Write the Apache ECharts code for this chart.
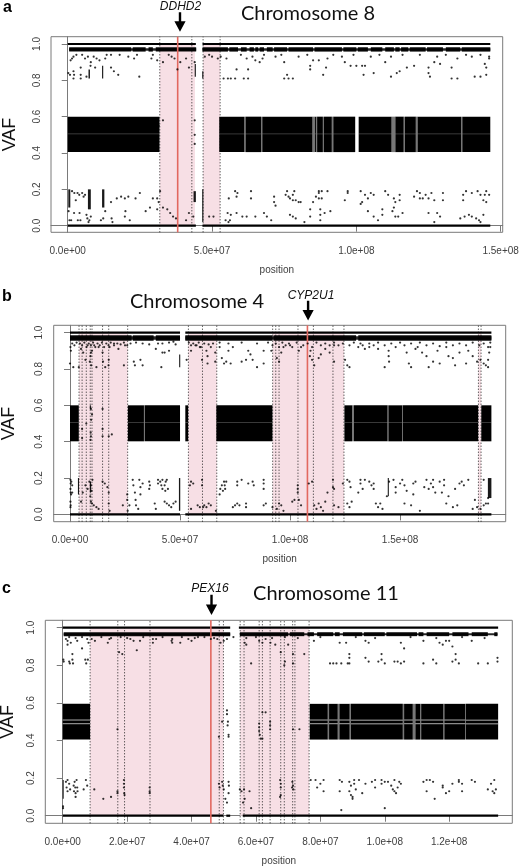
<!DOCTYPE html>
<html><head><meta charset="utf-8">
<style>html,body{margin:0;padding:0;background:#fff}#c{width:520px;height:867px}</style>
<script src="https://cdn.jsdelivr.net/npm/echarts@6/dist/echarts.min.js"></script></head>
<body><div id="c"></div>
<script>
// All positions in megabases (Mb), VAF as fraction.
const vafTicks=[0,0.2,0.4,0.6,0.8,1];
const a_ticks=[0,50,100,150], b_ticks=[0,50,100,150], c_ticks=[0,20,40,60,80,100,120];
const a_shade=[[31.9,44.1],[46.9,52.8]];
const a_dotted=[31.9,43,46.9,52.8];
const a_gene=[38.1], a_arrow=[38.9];
const a_line=[[0,44.4],[46.7,146.4]];
const a_lineLow=[[0,44.4],[46.7,146.4]];
const a_core=[[0.5,44.5],[46.7,146.4]];
const a_band=[[0.5,22],[22.5,27],[28,29.5],[30.5,44.5],[46.7,55.5],[56,59],[60,62],[63,64.5],[65,66],[66.5,68],[69,71],[71.5,76],[76.5,85],[85.5,95],[95.5,100],[100.5,104],[105,109],[110,113],[113.5,115],[115.5,118],[118.5,124],[124.5,130],[131,136],[136.5,146.4]];
const a_bandY=[0.958,0.982];
const a_blocks=[[0,31.8],[52.5,61.2],[61.6,67],[67.4,84.8],[85.6,86],[86.4,88.4],[88.7,91.5],[92,99.6],[100.8,112.2],[113.5,116.4],[116.8,120.6],[121.2,136.3],[136.7,146.4]];
const a_streaks=[[61.2,61.6],[67,67.4],[84.8,85.6],[86,86.4],[88.4,88.7],[91.5,92],[112.2,113.5],[116.4,116.8],[120.6,121.2],[136.3,136.7]];
const a_blockY=[0.405,0.6];
const a_mid=[0.505], a_midAlpha=[0.3];
const a_columns=[[0.2,0.9,0.1,0.2],[7,8,0.09,0.2],[11.9,12.7,0.1,0.2],[43.6,44.4,0.13,0.19],[46.6,47,0.02,0.2],[7.2,7.7,0.81,0.86],[11.9,12.3,0.81,0.88],[44,44.4,0.82,0.89],[46.6,47,0.81,0.85]];
const a_pts=[[0.3,.08],[0.6,.03],[1.2,.03],[1.5,.19],[2.3,.18],[2.8,.14],[3.4,.18],[4,.17],[5,.18],[5.5,.16],[6,.17],[2.2,.07],[3.5,.03],[4.1,.07],[4.4,.03],[6.5,.06],[6.8,.04],[7.2,.02],[7.5,.03],[8,.05],[11.5,.03],[12.3,.04],[13,.08],[15.2,.04],[15.5,.02],[15,.13],[17,.15],[18.5,.16],[19.8,.15],[21,.16],[23.5,.15],[25,.18],[20,.08],[19.8,.05],[21.5,.03],[27,.08],[28.5,.1],[29.5,.15],[31,.15],[31.5,.13],[31,.09],[32,.19],[33,.1],[34.5,.09],[35.5,.07],[36.5,.05],[37.5,.04],[41,.03],[42,.07],[43.5,.05],[49,.05],[50.5,.05],[55.4,.07],[56.5,.06],[54.7,.03],[55.7,.02],[56.2,.03],[55.8,.15],[58,.19],[58.5,.16],[58.8,.18],[58.5,.07],[60.5,.05],[65,.05],[63.5,.19],[63.5,.15],[62,.05],[68,.07],[69,.05],[70.5,.03],[71.5,.16],[71.5,.13],[72,.11],[76,.19],[75.5,.17],[76.5,.16],[77,.15],[78,.17],[78.5,.19],[78,.14],[79,.14],[80,.13],[80.7,.13],[77,.06],[78,.05],[79,.04],[82,.02],[84,.09],[84,.05],[85,.13],[86,.16],[87,.18],[87,.15],[87,.19],[88,.15],[88,.19],[87.5,.09],[87.5,.06],[87.5,.03],[89,.07],[91,.08],[90,.19],[96,.14],[97,.19],[97,.18],[101.5,.19],[101.5,.12],[102,.13],[103,.17],[104,.15],[105,.18],[106,.17],[104,.08],[106,.05],[107.5,.03],[109,.09],[109,.06],[110,.19],[111,.17],[113,.15],[113.5,.13],[113,.1],[112.5,.08],[113.5,.05],[114.5,.05],[116,.07],[115,.17],[115,.14],[120,.16],[121,.19],[122,.18],[122,.15],[124,.17],[123,.15],[125,.15],[126,.18],[127,.14],[125,.07],[127,.02],[128,.07],[129,.05],[130,.18],[130,.14],[136,.04],[137.5,.05],[139,.06],[140,.05],[141.5,.04],[142.5,.03],[143,.02],[144,.06],[137,.14],[137,.17],[138,.19],[140,.18],[142,.19],[143,.17],[144,.14],[144.5,.17],[145,.13],[146,.17],[145,.19],
[0.2,.84],[0.8,.83],[2,.81],[2.2,.83],[2,.85],[4.5,.81],[4.5,.83],[4.5,.87],[6.5,.82],[7.9,.88],[9.5,.87],[15,.87],[16,.85],[17.5,.83],[24.8,.82],[33,.58],[31.5,.55],[44,.58],[44,.5],[44,.45],[31,.91],[33,.9],[36,.93],[38,.86],[39,.9],[41,.92],[42,.87],[44,.9],[35,.94],[37,.92],[55,.92],[53,.93],[58.5,.86],[54,.81],[55.5,.81],[56.5,.81],[58,.81],[61,.81],[62.5,.86],[62.5,.81],[65,.91],[66.5,.9],[67.5,.92],[75,.81],[76,.83],[76.5,.81],[78,.81],[75,.9],[84,.88],[84,.86],[85,.91],[87,.91],[88.5,.83],[89.5,.87],[96,.9],[98,.88],[100,.88],[102,.88],[103,.88],[102.5,.83],[106,.84],[110,.9],[112,.82],[114,.84],[115,.85],[117.5,.87],[120,.88],[125,.87],[125,.84],[125.5,.82],[127,.9],[129,.89],[133,.81],[133,.87],[135,.81],[141,.82],[143,.82],[144.5,.89],[145,.87],[145,.83],[146,.93],
[1,.91],[1.5,.92],[2,.93],[3,.94],[5,.94],[6,.92],[7,.93],[8,.9],[9,.93],[10,.92],[11,.91],[13,.92],[13.5,.94],[15,.94],[18,.94],[21,.93],[23,.92],[24,.94],[29,.92],[29.5,.94],[47.5,.93],[49,.94],[50,.93],[52,.92],[60,.94],[62,.92],[64,.93],[68,.94],[72,.93],[74,.94],[80,.93],[83,.94],[90,.92],[92,.94],[95,.93],[99,.94],[105,.93],[108,.94],[112,.93],[116,.94],[122,.94],[128,.93],[131,.94],[135,.92],[138,.94],[140,.93],[143,.94],[146,.92]];

const b_shade=[[4.1,26.2],[53.8,66.7],[92.1,124.5],[185.6,186.8]];
const b_dotted=[4.1,5.5,7.4,9.2,10,14.8,17.6,26.2,53.8,60.2,66.7,92.1,93.5,95,103.6,110.6,119.5,124.5,185.6,186.8];
const b_gene=[107.9], b_arrow=[108.2];
const b_line=[[0,50],[52.4,191.5]];
const b_lineLow=[[0,50],[52.4,191.5]];
const b_core=[[0,50],[52.4,191.5]];
const b_band=[[0,28],[28.5,38],[39,50],[52.4,92],[92.5,130],[131,191.5]];
const b_bandY=[0.955,0.985];
const b_blocks=[[0,4],[26.3,33.6],[34,50],[52.4,53.7],[66.5,92],[124.7,128.2],[129,144.3],[144.7,150.9],[151.2,185.5],[186.9,191.5]];
const b_streaks=[[33.6,34],[128.2,129],[144.3,144.7],[150.9,151.2]];
const b_blockY=[0.402,0.6];
const b_mid=[0.505], b_midAlpha=[0.3];
const b_columns=[[49.5,50.1,0.02,0.2],[144.4,144.9,0.1,0.2],[189.9,191.5,0.09,0.2],[3.6,4.1,0.11,0.2],[49.6,50.1,0.81,0.88],[9,9.6,0.12,0.18],[9,9.5,0.58,0.6]];
const b_pts=[[0.2,.19],[0.3,.17],[.2,.14],[.3,.12],[.5,.11],[.2,.07],[.3,.05],[.2,.04],[.6,.18],[1,.16],[1,.12],[5.8,.12],[5,.07],[7,.16],[8,.14],[8.8,.18],[9.5,.16],[9.8,.13],[9.2,.1],[9.5,.07],[10.2,.19],[10,.06],[10.8,.05],[12,.04],[13,.03],[14.8,.18],[15.8,.17],[17,.15],[17.6,.12],[17.6,.06],[18,.02],[24,.05],[26,.11],[26,.08],[26.2,.02],[27,.05],[28.5,.19],[28.8,.16],[29.5,.12],[29.8,.08],[30,.05],[31,.03],[31.5,.19],[32,.15],[32,.11],[33,.17],[36,.18],[36.3,.16],[36,.14],[38.5,.06],[39,.03],[40,.19],[40,.17],[41,.18],[41.5,.16],[42,.14],[42,.19],[43,.16],[43.3,.13],[43.5,.18],[44,.19],[44.5,.14],[43,.07],[44,.06],[45,.05],[46,.04],[47,.06],[48,.07],[54.5,.16],[55,.18],[56,.17],[55,.03],[58,.05],[59,.04],[60,.19],[60,.16],[60.5,.04],[61,.05],[62,.04],[63,.06],[64,.05],[66.3,.02],[68,.11],[68.3,.14],[69,.16],[69.5,.13],[70,.18],[70.3,.16],[70.5,.14],[71,.18],[75,.05],[74,.04],[76,.06],[77,.05],[76,.16],[76,.18],[78,.19],[80,.06],[80,.04],[81,.17],[83,.18],[83.5,.16],[88,.05],[89,.06],[88,.19],[88,.17],[88,.14],[92,.04],[94,.03],[95,.06],[96,.05],[97,.02],[101,.07],[102,.08],[103.5,.12],[103.5,.14],[103.5,.16],[104,.08],[105,.05],[108.5,.17],[110,.18],[111,.05],[112,.03],[113,.06],[114,.04],[115,.02],[116,.07],[117,.12],[119.5,.19],[119.5,.15],[120,.14],[120,.05],[122,.04],[124,.17],[126,.19],[127,.18],[127.5,.15],[126,.06],[127,.04],[128,.07],[131,.12],[132,.19],[132,.17],[133,.14],[134,.19],[136,.18],[137,.16],[138,.17],[138,.14],[139,.06],[140,.04],[141,.06],[142,.03],[144,.1],[145,.18],[147,.19],[148,.15],[148,.12],[150,.17],[151,.19],[152,.16],[153,.13],[152,.06],[155,.05],[156,.11],[156,.17],[157,.18],[159,.02],[161,.15],[162,.19],[163,.14],[164,.17],[165,.19],[165,.15],[166,.12],[168,.18],[169,.12],[170,.19],[170,.16],[172,.1],[171,.06],[174,.04],[176,.05],[175,.14],[177,.17],[178,.18],[179,.16],[181,.19],[183,.03],[184,.08],[185,.04],[186.5,.03],[188,.05],[188,.19],[189,.06],[190,.06],[190,.09],
[0,.83],[.2,.92],[.4,.9],[1.5,.81],[4,.81],[5,.91],[6,.89],[7,.85],[8,.93],[9,.84],[9.3,.87],[9.5,.89],[9.6,.82],[10,.9],[11,.93],[12,.81],[13,.92],[14.8,.89],[15,.84],[16,.81],[17.5,.82],[17.6,.85],[18,.92],[20,.94],[22,.91],[24.5,.82],[25,.93],[29,.84],[29.5,.82],[32,.85],[33,.82],[40,.94],[39,.91],[41.5,.81],[42,.89],[43,.89],[45,.9],[47,.95],[53,.85],[55,.9],[57,.93],[59,.92],[60,.85],[62,.9],[62.5,.87],[62.5,.83],[64,.92],[66,.89],[66,.84],[68,.92],[69,.86],[70,.83],[71,.84],[73,.83],[72,.9],[74,.92],[78,.84],[80,.85],[81,.9],[82,.88],[83,.85],[85,.81],[88,.83],[88,.9],[91.5,.9],[94,.86],[95,.84],[96,.89],[97,.92],[100,.93],[104,.9],[105,.92],[109,.87],[109.3,.9],[110,.85],[111,.82],[113,.86],[114,.88],[116,.91],[118,.89],[120,.84],[120,.93],[125,.85],[126,.82],[127,.81],[133,.93],[136,.92],[140,.91],[145,.84],[144.8,.87],[144.8,.9],[143,.81],[153,.89],[154,.83],[155,.81],[158,.92],[160,.89],[162,.87],[163,.81],[165,.84],[167,.9],[168,.83],[171,.92],[172,.87],[174,.86],[175,.82],[177,.89],[180,.83],[181,.9],[183,.87],[185,.84],[186.5,.85],[188,.83],[189,.82],[190,.81],[190,.85],[190.5,.89],[191,.92],
[9.5,.58],[9.6,.52],[9.4,.45],[9.5,.43],[9.3,.41],[14.8,.58],[14.8,.47],[14.8,.43],[17.6,.43],[19,.44],[10,.55],[5.5,.42],[5.5,.47],[7.4,.5],
[1,.94],[2,.93],[3,.945],[4.5,.94],[5.5,.93],[6.5,.945],[7.5,.92],[8.5,.94],[9.5,.93],[10.5,.945],[11.5,.92],[12.5,.94],[13.5,.93],[14.5,.945],[15.5,.92],[16.5,.94],[17.5,.93],[18.5,.945],[20,.93],[21.5,.94],[23,.935],[24.5,.945],[26,.93],[27.5,.94],[30,.945],[33,.94],[36,.935],[42,.94],[45,.945],[48,.935],[54,.945],[55,.93],[56,.94],[57.5,.93],[58.5,.945],[59.5,.92],[61,.94],[63,.935],[65,.94],[68,.945],[72,.94],[78,.945],[85,.94],[90,.945],[92,.93],[93.5,.94],[95,.92],[96.5,.945],[98,.93],[99.5,.94],[101,.92],[103,.945],[106,.93],[108,.94],[110,.92],[112,.945],[114,.93],[116,.94],[118,.93],[120,.945],[122,.93],[124,.94],[127,.93],[129,.945],[131,.92],[132,.94],[134,.91],[136,.94],[138,.93],[140,.945],[143,.93],[146,.94],[148,.92],[150,.945],[152,.93],[155,.94],[157,.91],[159,.945],[162,.93],[165,.94],[168,.925],[171,.945],[174,.93],[177,.94],[180,.93],[183,.945],[186,.93],[188,.94],[190,.92],[191,.945]];

const c_shade=[[8.5,49.9],[55.1,76.5]];
const c_dotted=[8.5,17.1,19.2,27.1,48.6,49.9,55.1,56.3,61,62,64.4,67.7,68.8,71.4,72.1,76.5];
const c_gene=[46], c_arrow=[46.2];
const c_line=[[0,52],[54.7,135.2]];
const c_lineLow=[[0,49.9],[50.8,52],[55.9,135.2]];
const c_core=[[0.3,52],[55,135]];
const c_band=[[0.3,52],[55,70],[70.5,75],[76,78],[79,84],[84.5,86],[87,93],[93.5,100],[100.5,110],[110.5,112],[113,120],[121,126],[127,132],[134,135]];
const c_bandY=[0.955,0.976];
const c_blocks=[[0,8.5],[76.7,82.3],[82.7,85.4],[85.9,89.1],[89.5,105.6],[106,108.7],[109.5,111],[111.3,118.2],[118.5,125],[125.2,135.2]];
const c_streaks=[[82.3,82.7],[85.4,85.9],[89.1,89.5],[105.6,106],[108.7,109.5],[111,111.3],[118.2,118.5],[125,125.2]];
const c_blockY=[0.405,0.595];
const c_mid=[0.489,0.509], c_midAlpha=[0.9];
const c_columns=[[0,0.3,0.09,0.19]];
const c_pts=[[0.1,.05],[.1,.04],[1,.18],[1.2,.15],[1.5,.13],[1.5,.19],[2,.17],[2.3,.14],[3.4,.16],[3.5,.13],[3.7,.18],[3.9,.15],[4,.12],[4,.1],[4.3,.19],[4.5,.15],[4.6,.13],[6.5,.14],[7.2,.19],[7.6,.16],[9.8,.14],[12.6,.09],[15,.1],[17,.12],[17,.13],[19,.19],[19,.17],[19,.15],[19.1,.12],[19.2,.11],[27,.15],[27,.13],[27,.12],[48.5,.17],[48.7,.15],[49.5,.18],[49.7,.16],[50,.14],[50.5,.09],[51.5,.18],[51.6,.16],[51.5,.12],[51,.07],[55,.14],[55.5,.13],[56.3,.14],[56.5,.09],[56,.07],[58,.13],[58.5,.04],[67.5,.19],[67.7,.17],[67.7,.15],[67.7,.11],[67.5,.1],[71.3,.18],[71.5,.16],[71.2,.15],[71.6,.14],[77,.19],[78.5,.19],[79,.15],[80,.17],[81,.13],[81,.19],[86,.19],[86.7,.18],[86,.13],[86.5,.03],[89,.18],[89.5,.16],[89,.13],[89.5,.11],[90,.1],[90,.09],[90.5,.19],[90.5,.17],[91,.14],[92,.19],[94,.17],[93,.12],[96,.18],[97,.19],[97,.15],[99,.19],[100,.18],[99,.17],[100,.04],[101,.18],[102,.16],[102.5,.14],[103,.13],[104,.15],[103,.19],[103.5,.12],[104.5,.18],[105,.17],[112,.18],[113,.19],[114,.19],[115,.18],[113,.13],[115.5,.09],[118,.16],[118,.15],[119,.12],[120,.13],[121,.17],[123,.18],[123,.19],[124,.17],[124,.13],[127,.19],[128,.18],[132,.14],[133,.17],[134,.19],[134.5,.14],[134,.12],[133.5,.13],
[.2,.83],[.3,.82],[1,.94],[1.5,.93],[1.5,.91],[2,.82],[2.2,.81],[2.5,.92],[3,.86],[3,.83],[3.2,.81],[4.5,.93],[6,.89],[7,.83],[7.3,.81],[7.8,.83],[7.6,.94],[8,.92],[10,.93],[14,.92],[14.5,.94],[17.5,.87],[18.5,.86],[21,.94],[22,.93],[23,.88],[24,.93],[28,.92],[29,.94],[33.8,.93],[34,.92],[36.5,.92],[39,.94],[40,.93],[42,.95],[48,.94],[49,.92],[50,.93],[51,.94],[56.5,.92],[57,.91],[58.5,.81],[61,.93],[62,.92],[63,.94],[64.5,.92],[66,.91],[67.7,.87],[69,.82],[68.8,.8],[70,.91],[71.5,.86],[71.5,.81],[75,.86],[78,.93],[86,.92],[88,.92],[88.5,.81],[89,.81],[84,.81],[83,.81],[85,.81],[86.5,.81],[89,.84],[89,.86],[94,.84],[95,.82],[94,.93],[95,.92],[99,.86],[99,.83],[100,.81],[98,.82],[103,.82],[104,.82],[105,.81],[106,.82],[106,.89],[105,.92],[112,.81],[115,.83],[116,.81],[112,.93],[117,.92],[118,.91],[119,.93],[120,.93],[121,.9],[121,.82],[122,.86],[122,.83],[123,.81],[127,.93],[129,.81],[132,.81],[135,.84],[135,.82],
[17,.46],[61,.49],[61,.47],[61,.45],[61.2,.43],[61.5,.41],[62,.41],[62,.55],[63,.55],[64.4,.5],[64.4,.48],[64.4,.46],[71.5,.46],[73.5,.46],[48.5,.42],[49.5,.5],[51,.56],[51,.54],[51.3,.5],[51.5,.43],[51.5,.42],[51.2,.48],
[2,.95],[4,.945],[6,.95],[9,.94],[12,.95],[15,.945],[18,.95],[20,.945],[25,.95],[28,.94],[31,.95],[34,.94],[37,.95],[41,.945],[44,.95],[46,.94],[47,.945],[53,.95],[57,.945],[60,.95],[65,.945],[69,.95],[73,.945],[80,.95],[91,.95],[97,.945],[108,.95],[116,.945],[124,.95],[131,.945]];

const panels=[
 {letter:'a',gene:'DDHD2',chrom:'Chromosome 8',xTicks:a_ticks,shade:a_shade,dotted:a_dotted,red:a_gene,arrow:a_arrow,line:a_line,lineLow:a_lineLow,core:a_core,band:a_band,bandY:a_bandY,blocks:a_blocks,streaks:a_streaks,blockY:a_blockY,mid:a_mid,midAlpha:a_midAlpha,cols:a_columns,pts:a_pts,
  box:[51,36.7,451.7,195.6],xr:[-5.79,150.7],yr:[-0.0363,1.04],lx:[3,0],gx:[180.5,1],tx:[308,4],vaf:18,vafGap:32},
 {letter:'b',gene:'CYP2U1',chrom:'Chromosome 4',xTicks:b_ticks,shade:b_shade,dotted:b_dotted,red:b_gene,arrow:b_arrow,line:b_line,lineLow:b_lineLow,core:b_core,band:b_band,bandY:b_bandY,blocks:b_blocks,streaks:b_streaks,blockY:b_blockY,mid:b_mid,midAlpha:b_midAlpha,cols:b_columns,pts:b_pts,
  box:[53.7,325.3,452,196.4],xr:[-7.41,198],yr:[-0.04,1.04],lx:[2,289],gx:[311,290],tx:[197,292],vaf:18,vafGap:36},
 {letter:'c',gene:'PEX16',chrom:'Chromosome 11',xTicks:c_ticks,shade:c_shade,dotted:c_dotted,red:c_gene,arrow:c_arrow,line:c_line,lineLow:c_lineLow,core:c_core,band:c_band,bandY:c_bandY,blocks:c_blocks,streaks:c_streaks,blockY:c_blockY,mid:c_mid,midAlpha:c_midAlpha,cols:c_columns,pts:c_pts,
  box:[45.3,620.3,467,203],xr:[-5.41,139.6],yr:[-0.0404,1.0394],lx:[2,581],gx:[210,583],tx:[326,584],vaf:18,vafGap:28}
];

const M=1e6;
function expLabel(v){return v.toExponential(1).replace(/e\+(\d)$/,'e+0$1');}
const grids=[],xAxes=[],yAxes=[],series=[],titles=[];
const LABEL='#404040',AX='#7a7a7a',FONT='"Liberation Sans",Arial,sans-serif';

function rects(i,data,color,opacity,name){
  series.push({type:'custom',name:name,coordinateSystem:'cartesian2d',xAxisIndex:i,yAxisIndex:i,silent:true,animation:false,
    data:data,renderItem:function(p,api){
      const a=api.coord([api.value(0),api.value(2)]),b=api.coord([api.value(1),api.value(3)]);
      return {type:'rect',shape:{x:a[0],y:b[1],width:Math.max(b[0]-a[0],0.6),height:a[1]-b[1]},style:{fill:color,opacity:opacity}};
    }});
}
function vlines(i,data,y0,y1,stroke,width,dash,name){
  series.push({type:'custom',name:name,coordinateSystem:'cartesian2d',xAxisIndex:i,yAxisIndex:i,silent:true,animation:false,
    data:data,renderItem:function(p,api){
      const a=api.coord([api.value(0),y0]),b=api.coord([api.value(0),y1]);
      return {type:'line',shape:{x1:a[0],y1:a[1],x2:b[0],y2:b[1]},style:{stroke:stroke,lineWidth:width,lineDash:dash||null}};
    }});
}
panels.forEach(function(p,i){
  grids.push({left:p.box[0],top:p.box[1],width:p.box[2],height:p.box[3],show:true,borderColor:AX,borderWidth:1,backgroundColor:'#fff',outerBoundsMode:'none',containLabel:false});
  const xv=p.xTicks.map(function(v){return v*M;});
  xAxes.push({type:'value',gridIndex:i,min:p.xr[0]*M,max:p.xr[1]*M,splitLine:{show:false},
    axisLine:{show:true,lineStyle:{color:AX}},axisTick:{show:true,length:6,customValues:xv,lineStyle:{color:AX}},
    axisLabel:{customValues:xv,formatter:expLabel,color:LABEL,fontSize:10,fontFamily:FONT,margin:14},
    name:'position',nameLocation:'middle',nameGap:33,nameTextStyle:{fontSize:10,color:LABEL,fontFamily:FONT}});
  yAxes.push({type:'value',gridIndex:i,min:p.yr[0],max:p.yr[1],splitLine:{show:false},
    axisLine:{show:true,lineStyle:{color:AX}},axisTick:{show:true,length:6,customValues:vafTicks,lineStyle:{color:AX}},
    axisLabel:{customValues:vafTicks,rotate:90,formatter:function(v){return v.toFixed(1);},color:LABEL,fontSize:10,fontFamily:FONT,margin:9},
    name:'VAF',nameLocation:'middle',nameGap:p.vafGap,nameRotate:90,nameTextStyle:{fontSize:p.vaf,color:'#111',fontFamily:FONT}});
  rects(i,p.shade.map(function(s){return [s[0]*M,s[1]*M,0.0,1.0];}),'#f7dfe5',1,'shade');
  vlines(i,p.dotted.map(function(v){return [v*M];}),p.yr[0],p.yr[1],'#222',1,[1,2],'dotted');
  rects(i,p.streaks.map(function(b){return [b[0]*M,b[1]*M,p.blockY[0],p.blockY[1]];}),'#777',1,'streak');
  rects(i,p.blocks.map(function(b){return [b[0]*M,b[1]*M,p.blockY[0],p.blockY[1]];}),'#000',1,'het');
  rects(i,p.cols.map(function(b){return [b[0]*M,b[1]*M,b[2],b[3]];}),'#000',0.9,'columns');
  p.mid.forEach(function(m){
    rects(i,p.blocks.map(function(b){return [b[0]*M,b[1]*M,m-0.002,m+0.002];}),'#fff',p.midAlpha[0],'mid');
  });
  rects(i,p.core.map(function(b){return [b[0]*M,b[1]*M,p.bandY[0]+0.005,p.bandY[1]-0.005];}),'#000',0.85,'core');
  rects(i,p.band.map(function(b){return [b[0]*M,b[1]*M,p.bandY[0],p.bandY[1]];}),'#000',0.95,'band');
  rects(i,p.line.map(function(b){return [b[0]*M,b[1]*M,0.994,1.006];}),'#000',1,'hom');
  rects(i,p.lineLow.map(function(b){return [b[0]*M,b[1]*M,-0.006,0.006];}),'#000',1,'ref');
  series.push({type:'scatter',xAxisIndex:i,yAxisIndex:i,silent:true,animation:false,symbol:'circle',symbolSize:2.2,itemStyle:{color:'#000'},
    data:p.pts.map(function(q){return [q[0]*M,q[1]];})});
  vlines(i,p.red.map(function(v){return [v*M];}),p.yr[0],p.yr[1],'#e2685f',1.6,null,'gene');
  series.push({type:'custom',name:'arrow',coordinateSystem:'cartesian2d',xAxisIndex:i,yAxisIndex:i,silent:true,animation:false,
    data:p.arrow.map(function(v){return [v*M];}),renderItem:function(q,api){
      const t=api.coord([api.value(0),1.175]),b=api.coord([api.value(0),1.067]);
      const neck=b[1]-10.5;
      return {type:'polygon',shape:{points:[[b[0]-1.2,t[1]],[b[0]+1.2,t[1]],[b[0]+1.2,neck],[b[0]+5.6,neck],[b[0],b[1]],[b[0]-5.6,neck],[b[0]-1.2,neck]]},style:{fill:'#000'}};
    }});
  titles.push({text:p.letter,left:p.lx[0],top:p.lx[1],padding:0,textStyle:{fontSize:16,fontWeight:'bold',color:'#000',fontFamily:FONT}});
  titles.push({text:p.gene,left:p.gx[0],top:p.gx[1],padding:0,textAlign:'center',textStyle:{fontSize:12,fontStyle:'italic',fontWeight:'normal',color:'#111',fontFamily:FONT}});
  titles.push({text:p.chrom,left:p.tx[0],top:p.tx[1],padding:0,textAlign:'center',textStyle:{fontSize:20,fontWeight:'normal',color:'#111',fontFamily:'Lato,"Open Sans",sans-serif'}});
});
const chart=echarts.init(document.getElementById('c'),null,{renderer:'canvas'});
chart.setOption({animation:false,backgroundColor:'#fff',title:titles,grid:grids,xAxis:xAxes,yAxis:yAxes,series:series});
</script></body></html>
